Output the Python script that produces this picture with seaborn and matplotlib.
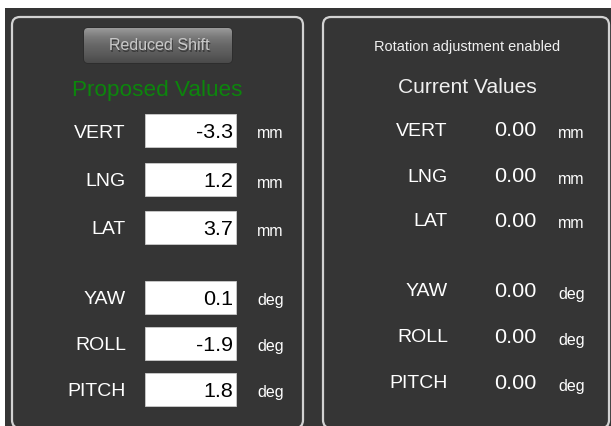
import numpy as np
import matplotlib
matplotlib.use("Agg")
import matplotlib.pyplot as plt
from matplotlib.patches import FancyBboxPatch, Rectangle
import seaborn as sns

# panel content
labels = ["VERT", "LNG", "LAT", "YAW", "ROLL", "PITCH"]
proposed = [-3.3, 1.2, 3.7, 0.1, -1.9, 1.8]
current = [0.00, 0.00, 0.00, 0.00, 0.00, 0.00]
units = ["mm", "mm", "mm", "deg", "deg", "deg"]

button_text = "Reduced Shift"
left_title = "Proposed Values"
right_title = "Current Values"
right_note = "Rotation adjustment enabled"

# layout (pixels, y down)
left_rows = [130, 179, 227, 297, 343, 389]
right_rows = [128, 174, 219, 289, 335, 381]

sns.set_theme(style="dark")
plt.rcParams['font.family'] = ['Liberation Sans', 'DejaVu Sans']

BG = "#353535"
EDGE = "#d2d2d2"
PX = 0.72  # px -> pt at 100 dpi

fig = plt.figure(figsize=(6.11, 4.26), dpi=100, facecolor="white")
ax = fig.add_axes([0, 0, 1, 1])
ax.set_xlim(0, 611)
ax.set_ylim(426, 0)
ax.axis("off")

ax.add_patch(Rectangle((5, 8), 620, 430, facecolor=BG, edgecolor="none"))

for x0, x1 in [(12, 303), (323, 609)]:
    ax.add_patch(FancyBboxPatch((x0, 17), x1 - x0, 411,
                                boxstyle="round,pad=0,rounding_size=8",
                                facecolor=BG, edgecolor=EDGE, linewidth=1.6))

# button with vertical gradient
btn = FancyBboxPatch((84, 28), 148, 35, boxstyle="round,pad=0,rounding_size=4",
                     facecolor="none", edgecolor="#2a2a2a", linewidth=1.0)
ax.add_patch(btn)
grad = np.linspace(0, 1, 64).reshape(-1, 1)
cmap = matplotlib.colors.LinearSegmentedColormap.from_list(
    "btn", ["#9a9a9a", "#7a7a7a", "#666666", "#5a5a5a", "#4a4a4a"])
im = ax.imshow(grad, extent=(84, 232, 63, 28), cmap=cmap, aspect="auto", zorder=2)
im.set_clip_path(btn)
shadow = ax.transData + matplotlib.transforms.ScaledTranslation(
    1 / 100, -1.5 / 100, fig.dpi_scale_trans)
ax.text(159, 46, button_text, ha="center", va="center", color="#3a3a3a",
        fontsize=16 * PX, zorder=3, transform=shadow)
ax.text(159, 46, button_text, ha="center", va="center", color="#c8c8c8",
        fontsize=16 * PX, zorder=4)

ax.text(157, 96, left_title, ha="center", va="baseline", color="#0c860c",
        fontsize=22.5 * PX)
ax.text(467, 51, right_note, ha="center", va="baseline", color="#f0f0f0",
        fontsize=14.5 * PX)
ax.text(467, 93, right_title, ha="center", va="baseline", color="#f0f0f0",
        fontsize=21 * PX)

# left panel rows
for lab, val, unit, y in zip(labels, proposed, units, left_rows):
    ax.text(126, y + 7.5, lab, ha="right", va="baseline", color="white",
            fontsize=19.5 * PX)
    ax.add_patch(Rectangle((145, y - 16.5), 91, 33, facecolor="white",
                           edgecolor="#cccccc", linewidth=0.6))
    ax.text(233, y + 8, f"{val:.1f}", ha="right", va="baseline",
            color="black", fontsize=21.5 * PX)
    ax.text(257, y + 8.5, unit, ha="left", va="baseline", color="white",
            fontsize=16 * PX)

# right panel rows
for lab, val, unit, y in zip(labels, current, units, right_rows):
    ax.text(448, y + 7.5, lab, ha="right", va="baseline", color="white",
            fontsize=19.5 * PX)
    ax.text(515, y + 8, f"{val:.2f}", ha="center", va="baseline",
            color="white", fontsize=21.5 * PX)
    ax.text(558, y + 9.5, unit, ha="left", va="baseline", color="white",
            fontsize=16 * PX)

fig.savefig("out.png", dpi=100, facecolor="white")
